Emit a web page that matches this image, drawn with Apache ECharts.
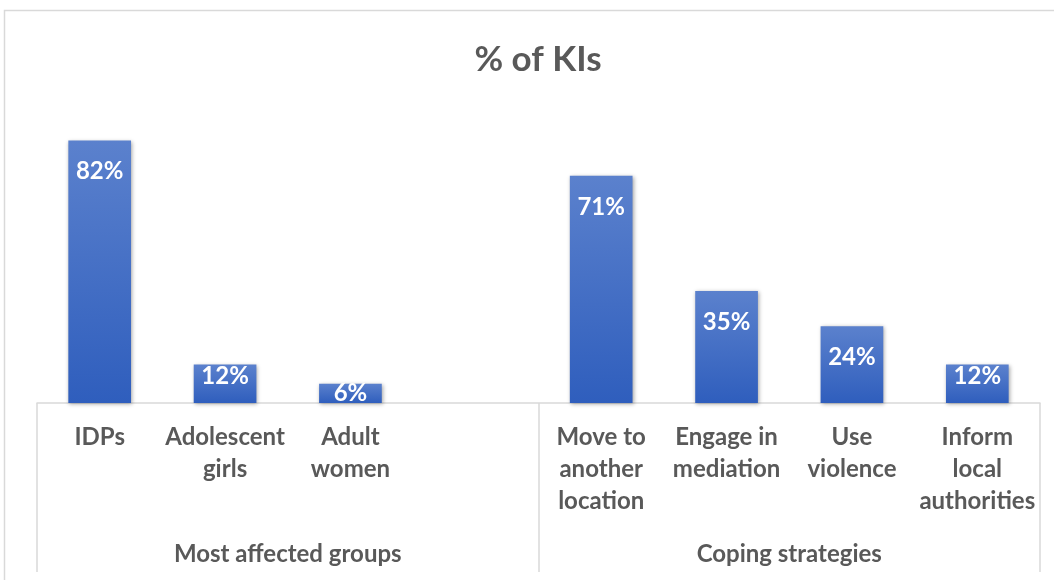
<!DOCTYPE html>
<html>
<head>
<meta charset="utf-8">
<script src="https://cdn.jsdelivr.net/npm/echarts@6/dist/echarts.min.js"></script>
<style>
  html, body { margin: 0; padding: 0; background: #fff; }
  #chart { width: 1054px; height: 580px; }
</style>
</head>
<body>
<div id="chart"></div>
<script>
// Share of key informants (%), grouped by question
const categories = [
  'IDPs', 'Adolescent\ngirls', 'Adult\nwomen', '',
  'Move to\nanother\nlocation', 'Engage in\nmediation', 'Use\nviolence', 'Inform\nlocal\nauthorities'
];
const values = [82, 12, 6, null, 71, 35, 24, 12];
const groups = ['Most affected groups', 'Coping strategies'];
const titleText = '% of KIs';

const textColor = '#595959';
const lineColor = '#d9d9d9';
const font = 'Lato, "Open Sans", sans-serif';

// Labels sit inside the top of each bar; short bars keep them near the top edge
function labelDistance(v) {
  if (v >= 20) return 19;
  if (v >= 10) return 0;
  return -3;
}

const barData = values.map(v => v == null ? null : {
  value: v,
  label: { distance: labelDistance(v) }
});

const chart = echarts.init(document.getElementById('chart'));
chart.setOption({
  animation: false,
  backgroundColor: '#ffffff',
  graphic: [{
    type: 'rect',
    shape: { x: 4.5, y: 10.5, width: 1200, height: 700 },
    style: { fill: 'none', stroke: lineColor, lineWidth: 1.5 },
    silent: true
  }, {
    type: 'text',
    x: 538,
    y: 60,
    style: {
      text: titleText,
      x: 0, y: 0,
      align: 'center',
      verticalAlign: 'middle',
      fontFamily: font,
      fontSize: 35,
      fontWeight: 'bold',
      fill: textColor
    },
    silent: true
  }],
  grid: { left: 37, right: 14, top: 83, bottom: 177 },
  xAxis: [{
    type: 'category',
    data: categories,
    position: 'bottom',
    axisLine: { show: true, lineStyle: { color: lineColor, width: 1.5 } },
    axisTick: { show: false },
    axisLabel: {
      interval: 0,
      margin: 18,
      fontFamily: font,
      fontSize: 24,
      fontWeight: 'bold',
      color: textColor,
      lineHeight: 32,
      align: 'center'
    }
  }, {
    type: 'category',
    data: groups,
    position: 'bottom',
    axisLine: { show: false },
    axisTick: { show: true, length: 169, lineStyle: { color: lineColor, width: 1.5 } },
    axisLabel: {
      margin: 139,
      fontFamily: font,
      fontSize: 24,
      fontWeight: 'bold',
      color: textColor
    }
  }],
  yAxis: {
    type: 'value',
    min: 0,
    max: 100,
    show: false,
    splitLine: { show: false }
  },
  series: [{
    type: 'bar',
    xAxisIndex: 0,
    data: barData,
    barWidth: '50%',
    itemStyle: {
      color: new echarts.graphic.LinearGradient(0, 0, 0, 1, [
        { offset: 0, color: '#5b81cd' },
        { offset: 1, color: '#2f5ebd' }
      ]),
      shadowColor: 'rgba(0,0,0,0.35)',
      shadowBlur: 4,
      shadowOffsetX: 1,
      shadowOffsetY: 1
    },
    label: {
      show: true,
      position: 'insideTop',
      formatter: '{c}%',
      fontFamily: font,
      fontSize: 24,
      fontWeight: 'bold',
      color: '#ffffff'
    }
  }]
});
</script>
</body>
</html>
